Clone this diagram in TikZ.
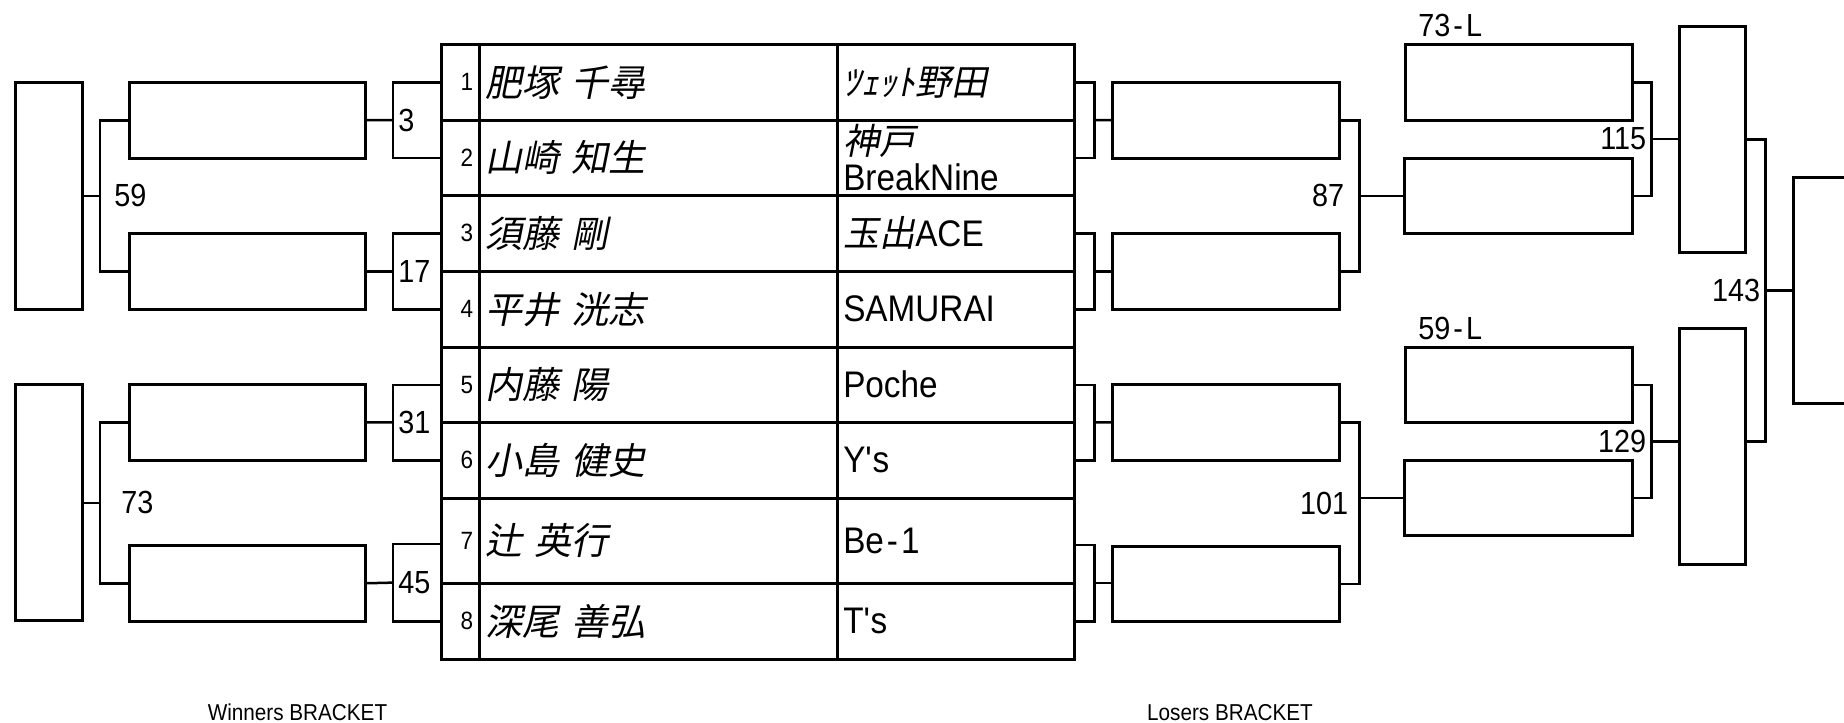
\documentclass[tikz,border=0pt]{standalone}
\usepackage{fontspec}
\setmainfont{Liberation Sans}[FakeStretch=0.9]
\newfontfamily\jp{Noto Sans CJK JP}[FakeSlant=0.2,WordSpace=2]
\usetikzlibrary{calc}

\newcommand\seedfont{\fontsize{12.5pt}{13pt}\selectfont}
\newcommand\namefont{\jp\fontsize{18.5pt}{20pt}\selectfont}
\newcommand\clubfont{\fontsize{18.5pt}{18pt}\selectfont}
\newcommand\clubjp{\jp\fontsize{18pt}{18pt}\selectfont}
\newcommand\tagfont{\fontsize{16pt}{16pt}\selectfont}
\newcommand\capfont{\fontsize{11.5pt}{12pt}\selectfont}

\begin{document}
\begin{tikzpicture}[x=0.5pt,y=-0.5pt]
  \tikzset{wire/.style={line width=1.25pt}}
  \tikzset{slot/.style={draw,line width=1.25pt,inner sep=0pt,anchor=north west}}
  \tikzset{cell/.style={slot,inner xsep=3pt}}
  \tikzset{wbox/.style={slot,minimum width=118pt,minimum height=38pt}}
  \tikzset{lbox/.style={slot,minimum width=113.5pt,minimum height=38pt}}
  \tikzset{tall/.style={slot,minimum width=33pt}}
  \tikzset{tag/.style={font=\tagfont,inner sep=2pt}}

  \useasboundingbox (0,0) rectangle (1844,723);

  \foreach \i/\top/\bot/\player/\club in {
    1/43/119/{肥塚 千尋}/{\clubjp ﾂｪｯﾄ野田},
    2/119/194/{山崎 知生}/{{\clubjp 神戸}\\BreakNine},
    3/194/270/{須藤 剛}/{{\clubjp 玉出}ACE},
    4/270/346/{平井 洸志}/{SAMURAI},
    5/346/421/{内藤 陽}/{Poche},
    6/421/497/{小島 健史}/{Y\textquotesingle s},
    7/497/582/{辻 英行}/{Be\kern1.5pt-\kern1.5pt 1},
    8/582/658/{深尾 善弘}/{T\textquotesingle s}}
  {
    \node[cell,text width=13pt,align=right,minimum height={(\bot-\top)*0.5pt},font=\seedfont] (num\i) at (440,\top) {\i};
    \node[cell,text width=173pt,align=left,minimum height={(\bot-\top)*0.5pt},font=\namefont] (name\i) at (478,\top) {\player};
    \node[cell,text width=112.5pt,align=left,minimum height={(\bot-\top)*0.5pt},font=\clubfont] (team\i) at (836,\top) {\club};
  }

  \node[wbox] (win3) at (128,81) {};
  \node[wbox] (win17) at (128,232) {};
  \node[wbox] (win31) at (128,383) {};
  \node[wbox] (win45) at (128,544) {};
  \node[tall,minimum width=33.5pt,minimum height=113.5pt] (win59) at (14,81) {};
  \node[tall,minimum width=33.5pt,minimum height=118pt] (win73) at (14,383) {};

  \draw[wire] (num1.west) -- ++(-47,0) |- node[pos=0.25,anchor=west,tag]{3} coordinate[pos=0.25](m3) (num2.west);
  \draw[wire] (num3.west) -- ++(-47,0) |- node[pos=0.25,anchor=west,tag]{17} coordinate[pos=0.25](m17) (num4.west);
  \draw[wire] (num5.west) -- ++(-47,0) |- node[pos=0.25,anchor=west,tag]{31} coordinate[pos=0.25](m31) (num6.west);
  \draw[wire] (num7.west |- win45.north) -- ++(-47,0) |- node[pos=0.25,anchor=west,tag]{45} coordinate[pos=0.25](m45) (num8.west);
  \draw[wire] (m3) -- (win3.east);
  \draw[wire] (m17) -- (win17.east);
  \draw[wire] (m31) -- (win31.east);
  \draw[wire] (m45) -- (win45.east);

  \draw[wire] (win3.west) -- ++(-28,0) |- node[pos=0.25,anchor=west,tag,xshift=4.5pt]{59} coordinate[pos=0.25](m59) (win17.west);
  \draw[wire] (win31.west) -- ++(-28,0) |- node[pos=0.25,anchor=west,tag,xshift=8pt]{73} coordinate[pos=0.25](m73) (win45.west);
  \draw[wire] (m59) -- (m59 -| win59.east);
  \draw[wire] (m73) -- (m73 -| win73.east);

  \node[lbox] (los1) at (1111,81) {};
  \node[lbox] (los2) at (1111,232) {};
  \node[lbox] (los3) at (1111,383) {};
  \node[lbox,minimum height=37.5pt] (los4) at (1111,545) {};
  \node[lbox,minimum width=114pt,minimum height=37.5pt] (los87) at (1403,157) {};
  \node[lbox,minimum width=114pt,minimum height=37.5pt] (los101) at (1403,459) {};
  \node[lbox] (los73L) at (1404,43) {};
  \node[lbox,minimum height=37.5pt] (los59L) at (1404,346) {};
  \node[tall,minimum height=113pt] (los115) at (1678,25) {};
  \node[tall,minimum height=118pt] (los129) at (1678,327) {};
  \node[tall,minimum height=113pt] (los143) at (1792,176) {};

  \draw[wire] (team1.east) -- ++(19,0) |- coordinate[pos=0.25](l1) (team2.east);
  \draw[wire] (team3.east) -- ++(19,0) |- coordinate[pos=0.25](l2) (team4.east);
  \draw[wire] (team5.east) -- ++(19,0) |- coordinate[pos=0.25](l3) (team6.east);
  \draw[wire] (team7.east |- los4.north) -- ++(19,0) |- coordinate[pos=0.25](l4) (team8.east);
  \draw[wire] (l1) -- (los1.west);
  \draw[wire] (l2) -- (los2.west);
  \draw[wire] (l3) -- (los3.west);
  \draw[wire] (l4) -- (l4 -| los4.west);

  \draw[wire] (los1.east) -- ++(19,0) |- node[pos=0.25,anchor=east,tag,xshift=-5pt]{87} coordinate[pos=0.25](m87) (los2.east);
  \draw[wire] (los3.east) -- ++(19,0) |- node[pos=0.25,anchor=east,tag,xshift=-3pt]{101} coordinate[pos=0.25](m101) (los4.east);
  \draw[wire] (m87) -- (los87.west);
  \draw[wire] (los101.west) -- (los101.west -| m101);

  \draw[wire] (los73L.east) -- ++(18,0) |- node[pos=0.25,anchor=east,tag]{115} coordinate[pos=0.25](m115) (los87.east);
  \draw[wire] (los59L.east) -- ++(18,0) |- node[pos=0.25,anchor=east,tag]{129} coordinate[pos=0.25](m129) (los101.east);
  \draw[wire] (m115) -- (m115 -| los115.west);
  \draw[wire] (m129) -- (m129 -| los129.west);
  \draw[wire] (los115.east) -- ++(19,0) |- node[pos=0.25,anchor=east,tag]{143} coordinate[pos=0.25](m143) (los129.east |- m129);
  \draw[wire] (m143) -- (los143.west);

  \node[tag,anchor=base west,inner sep=0pt] (tag73) at ([xshift=7pt,yshift=3.5pt]los73L.north west) {73\kern1.5pt-\kern1.5pt L};
  \node[tag,anchor=base west,inner sep=0pt] (tag59) at ([xshift=7pt,yshift=3.5pt]los59L.north west) {59\kern1.5pt-\kern1.5pt L};

  \node[font=\capfont,anchor=base] (wcap) at (297.5,720) {Winners BRACKET};
  \node[font=\capfont,anchor=base] (lcap) at (1230,720) {Losers BRACKET};
\end{tikzpicture}
\end{document}
